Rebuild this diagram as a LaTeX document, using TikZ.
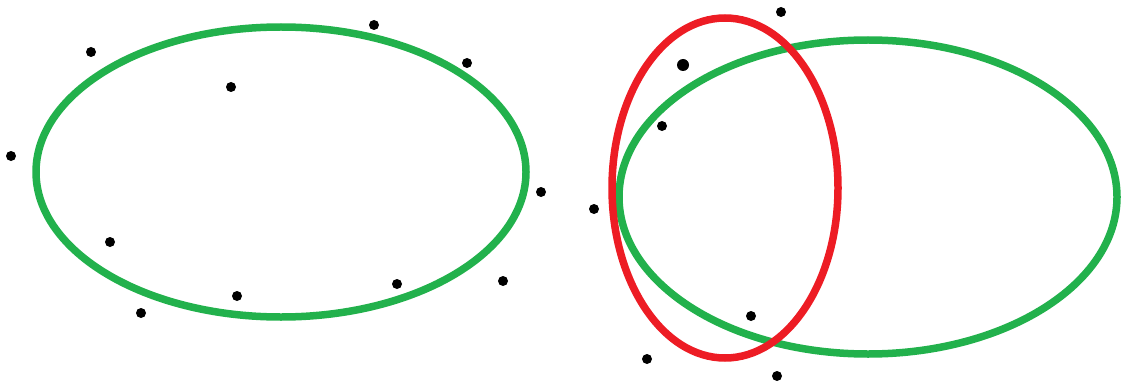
\documentclass[tikz,border=0pt]{standalone}
\definecolor{pgreen}{RGB}{34,177,76}
\definecolor{pred}{RGB}{237,28,36}
\tikzset{
  gring/.style={draw=pgreen, line width=0.15cm},
  rring/.style={draw=pred, line width=0.15cm},
  pt/.style={fill=black}
}
\begin{document}
\begin{tikzpicture}[x=0.02cm,y=-0.02cm]
\useasboundingbox (0,0) rectangle (1125,385);
% left ellipse
\draw[gring] (281,172) ellipse [x radius=245, y radius=145];
% right ellipses
\draw[gring] (868,197) ellipse [x radius=249, y radius=157];
\draw[rring] (725,188) ellipse [x radius=113, y radius=170];
% dots left
\foreach \x/\y in {91/52,374/25,467/63,231/87,11/156,541/192,110/242,237/296,397/284,503/281,141/313}
  \fill[pt] (\x,\y) circle (5);
% dots right
\foreach \x/\y in {781/12,662/126,594/209,751/316,647/359,777/376}
  \fill[pt] (\x,\y) circle (5);
\fill[pt] (683,65) circle (6);
\end{tikzpicture}
\end{document}
